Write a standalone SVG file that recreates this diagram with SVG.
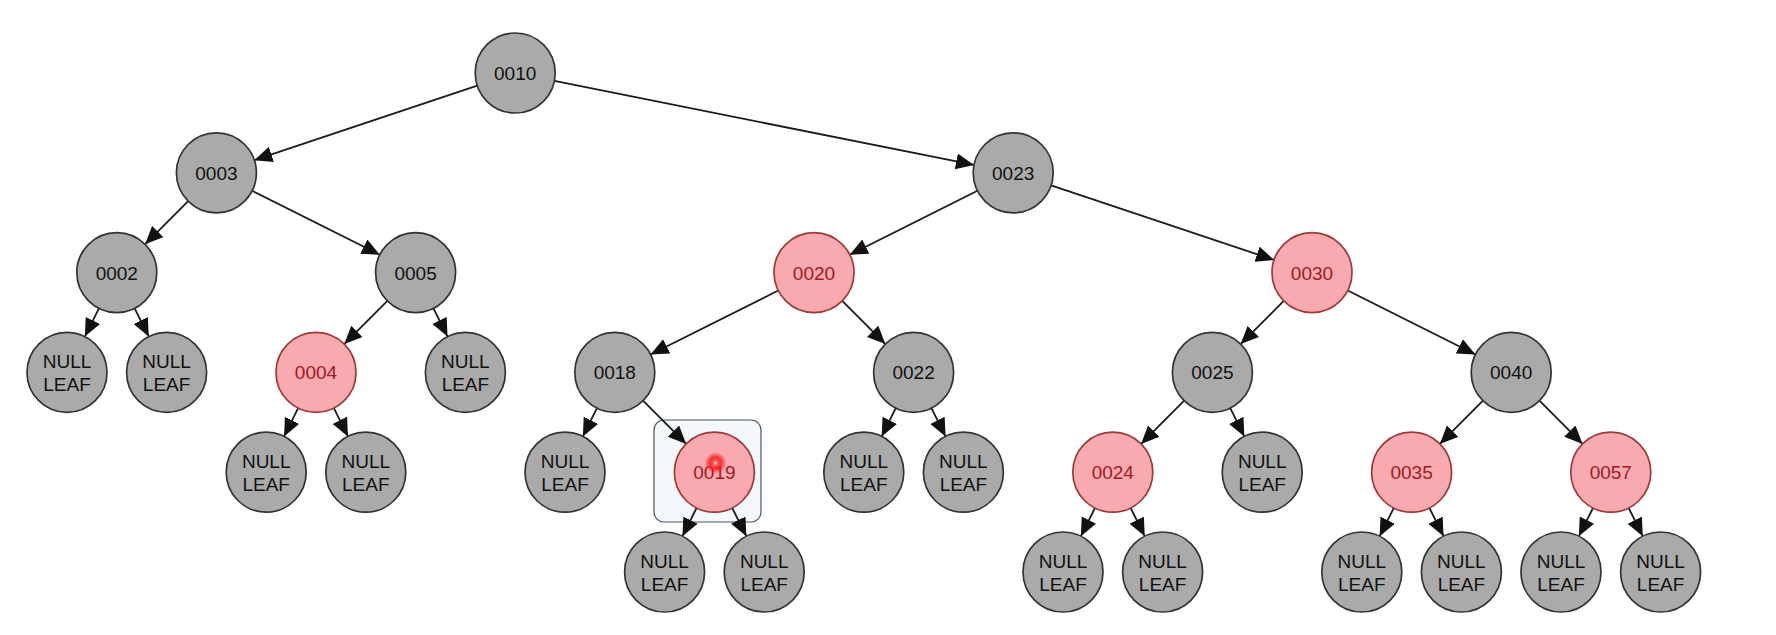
<svg xmlns="http://www.w3.org/2000/svg" width="1776" height="635" viewBox="0 0 1776 635">
<style>
.n circle{fill:#aaaaaa;stroke:#333333;stroke-width:1.7}
.r circle{fill:#f8aab0;stroke:#9a3a3a;stroke-width:1.7}
text{font-family:"Liberation Sans",Arial,sans-serif;font-size:19px;text-anchor:middle;fill:#111111}
.r text{fill:#9e1b22}
#edges path{stroke:#1a1a1a;stroke-width:1.8;fill:none;marker-end:url(#arr)}
.r circle.glow{fill:url(#glow);stroke:none}
</style>
<defs>
<marker id="arr" markerUnits="userSpaceOnUse" markerWidth="20" markerHeight="18" refX="18" refY="8" orient="auto">
<path d="M0,0 L18,8 L0,16 z" fill="#111111"/>
</marker>
<radialGradient id="glow">
<stop offset="0" stop-color="#fff4f4"/>
<stop offset="0.22" stop-color="#ff5050"/>
<stop offset="0.55" stop-color="#f01818" stop-opacity="0.8"/>
<stop offset="1" stop-color="#f01818" stop-opacity="0"/>
</radialGradient>
</defs>
<rect width="1776" height="635" fill="#ffffff"/>
<rect id="highlight" x="654" y="420" width="107" height="102" rx="10" fill="#f5f8fa" stroke="#4a5560" stroke-width="1.2"/>
<g id="edges">
<path d="M477.26,85.67 L254.34,160.13"/>
<path d="M554.42,80.86 L973.98,164.94"/>
<path d="M188.16,201.1 L145.04,244.3"/>
<path d="M252.16,190.72 L379.84,254.68"/>
<path d="M977.44,190.72 L849.76,254.68"/>
<path d="M1051.14,185.47 L1274.06,259.93"/>
<path d="M98.94,308.39 L84.86,336.61"/>
<path d="M134.66,308.39 L148.74,336.61"/>
<path d="M387.36,300.9 L344.24,344.1"/>
<path d="M433.46,308.39 L447.54,336.61"/>
<path d="M778.24,290.52 L650.56,354.48"/>
<path d="M842.24,300.9 L885.36,344.1"/>
<path d="M1283.76,300.9 L1240.64,344.1"/>
<path d="M1347.76,290.52 L1475.44,354.48"/>
<path d="M298.14,408.19 L284.06,436.41"/>
<path d="M333.86,408.19 L347.94,436.41"/>
<path d="M596.94,408.19 L582.86,436.41"/>
<path d="M643.04,400.7 L686.16,443.9"/>
<path d="M895.74,408.19 L881.66,436.41"/>
<path d="M931.46,408.19 L945.54,436.41"/>
<path d="M1184.16,400.7 L1141.04,443.9"/>
<path d="M1230.26,408.19 L1244.34,436.41"/>
<path d="M1482.96,400.7 L1439.84,443.9"/>
<path d="M1539.44,400.7 L1582.56,443.9"/>
<path d="M696.54,507.99 L682.46,536.21"/>
<path d="M732.26,507.99 L746.34,536.21"/>
<path d="M1094.94,507.99 L1080.86,536.21"/>
<path d="M1130.66,507.99 L1144.74,536.21"/>
<path d="M1393.74,507.99 L1379.66,536.21"/>
<path d="M1429.46,507.99 L1443.54,536.21"/>
<path d="M1592.94,507.99 L1578.86,536.21"/>
<path d="M1628.66,507.99 L1642.74,536.21"/>
</g>
<g id="n0010" class="n"><circle cx="515.2" cy="73" r="40"/><text x="515.2" y="80">0010</text></g>
<g id="n0003" class="n"><circle cx="216.4" cy="172.8" r="40"/><text x="216.4" y="179.8">0003</text></g>
<g id="n0023" class="n"><circle cx="1013.2" cy="172.8" r="40"/><text x="1013.2" y="179.8">0023</text></g>
<g id="n0002" class="n"><circle cx="116.8" cy="272.6" r="40"/><text x="116.8" y="279.6">0002</text></g>
<g id="n0005" class="n"><circle cx="415.6" cy="272.6" r="40"/><text x="415.6" y="279.6">0005</text></g>
<g id="n0020" class="r"><circle cx="814" cy="272.6" r="40"/><text x="814" y="279.6">0020</text></g>
<g id="n0030" class="r"><circle cx="1312" cy="272.6" r="40"/><text x="1312" y="279.6">0030</text></g>
<g id="leaf1" class="n"><circle cx="67" cy="372.4" r="40"/><text x="67" y="368.4">NULL</text><text x="67" y="391.4">LEAF</text></g>
<g id="leaf2" class="n"><circle cx="166.6" cy="372.4" r="40"/><text x="166.6" y="368.4">NULL</text><text x="166.6" y="391.4">LEAF</text></g>
<g id="n0004" class="r"><circle cx="316" cy="372.4" r="40"/><text x="316" y="379.4">0004</text></g>
<g id="leaf3" class="n"><circle cx="465.4" cy="372.4" r="40"/><text x="465.4" y="368.4">NULL</text><text x="465.4" y="391.4">LEAF</text></g>
<g id="n0018" class="n"><circle cx="614.8" cy="372.4" r="40"/><text x="614.8" y="379.4">0018</text></g>
<g id="n0022" class="n"><circle cx="913.6" cy="372.4" r="40"/><text x="913.6" y="379.4">0022</text></g>
<g id="n0025" class="n"><circle cx="1212.4" cy="372.4" r="40"/><text x="1212.4" y="379.4">0025</text></g>
<g id="n0040" class="n"><circle cx="1511.2" cy="372.4" r="40"/><text x="1511.2" y="379.4">0040</text></g>
<g id="leaf4" class="n"><circle cx="266.2" cy="472.2" r="40"/><text x="266.2" y="468.2">NULL</text><text x="266.2" y="491.2">LEAF</text></g>
<g id="leaf5" class="n"><circle cx="365.8" cy="472.2" r="40"/><text x="365.8" y="468.2">NULL</text><text x="365.8" y="491.2">LEAF</text></g>
<g id="leaf6" class="n"><circle cx="565" cy="472.2" r="40"/><text x="565" y="468.2">NULL</text><text x="565" y="491.2">LEAF</text></g>
<g id="n0019" class="r"><circle cx="714.4" cy="472.2" r="40"/><text x="714.4" y="479.2">0019</text><circle class="glow" cx="715.5" cy="463" r="11"/></g>
<g id="leaf7" class="n"><circle cx="863.8" cy="472.2" r="40"/><text x="863.8" y="468.2">NULL</text><text x="863.8" y="491.2">LEAF</text></g>
<g id="leaf8" class="n"><circle cx="963.4" cy="472.2" r="40"/><text x="963.4" y="468.2">NULL</text><text x="963.4" y="491.2">LEAF</text></g>
<g id="n0024" class="r"><circle cx="1112.8" cy="472.2" r="40"/><text x="1112.8" y="479.2">0024</text></g>
<g id="leaf9" class="n"><circle cx="1262.2" cy="472.2" r="40"/><text x="1262.2" y="468.2">NULL</text><text x="1262.2" y="491.2">LEAF</text></g>
<g id="n0035" class="r"><circle cx="1411.6" cy="472.2" r="40"/><text x="1411.6" y="479.2">0035</text></g>
<g id="n0057" class="r"><circle cx="1610.8" cy="472.2" r="40"/><text x="1610.8" y="479.2">0057</text></g>
<g id="leaf10" class="n"><circle cx="664.6" cy="572" r="40"/><text x="664.6" y="568">NULL</text><text x="664.6" y="591">LEAF</text></g>
<g id="leaf11" class="n"><circle cx="764.2" cy="572" r="40"/><text x="764.2" y="568">NULL</text><text x="764.2" y="591">LEAF</text></g>
<g id="leaf12" class="n"><circle cx="1063" cy="572" r="40"/><text x="1063" y="568">NULL</text><text x="1063" y="591">LEAF</text></g>
<g id="leaf13" class="n"><circle cx="1162.6" cy="572" r="40"/><text x="1162.6" y="568">NULL</text><text x="1162.6" y="591">LEAF</text></g>
<g id="leaf14" class="n"><circle cx="1361.8" cy="572" r="40"/><text x="1361.8" y="568">NULL</text><text x="1361.8" y="591">LEAF</text></g>
<g id="leaf15" class="n"><circle cx="1461.4" cy="572" r="40"/><text x="1461.4" y="568">NULL</text><text x="1461.4" y="591">LEAF</text></g>
<g id="leaf16" class="n"><circle cx="1561" cy="572" r="40"/><text x="1561" y="568">NULL</text><text x="1561" y="591">LEAF</text></g>
<g id="leaf17" class="n"><circle cx="1660.6" cy="572" r="40"/><text x="1660.6" y="568">NULL</text><text x="1660.6" y="591">LEAF</text></g>
</svg>
